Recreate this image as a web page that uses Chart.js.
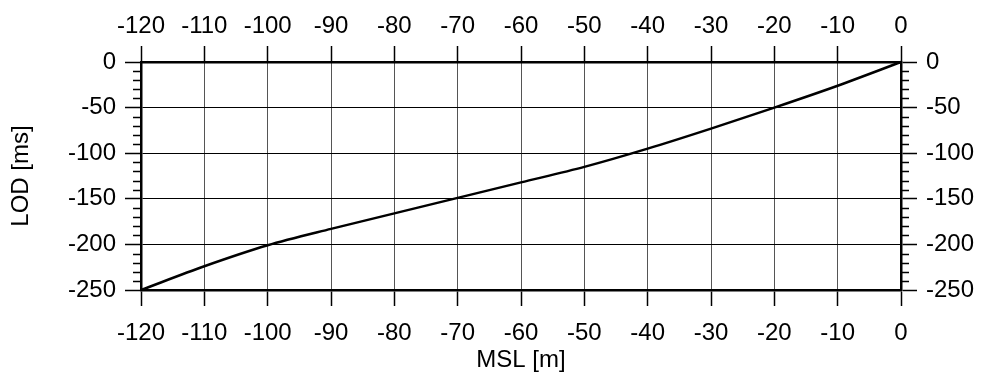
<!DOCTYPE html>
<html>
<head>
<meta charset="UTF-8">
<title>LOD vs MSL</title>
<script src="https://cdn.jsdelivr.net/npm/chart.js"></script>
<style>
  html, body { margin: 0; padding: 0; background: #fff; }
  canvas { display: block; }
</style>
</head>
<body>
<canvas id="chart" width="982" height="376"></canvas>
<script>
// sea level change (m) and change in length of day (ms)
const msl = [-120, -110, -100, -90, -80, -70, -60, -50, -40, -30, -20, -10, 0];
const lod = [-250, -224, -201, -183, -166, -149, -132, -115, -95, -73, -50, -26, 0];

const xTicks = { min: -120, max: 0, step: 10 };
const yTicks = { min: -250, max: 0, step: 50, minorStep: 10 };

const FONT = "'Liberation Sans', Arial, sans-serif";
const tickFont = { family: FONT, size: 24 };
const titleFont = { family: FONT, size: 24 };

// small outward minor ticks on both y axes
const minorTicks = {
  id: 'minorTicks',
  afterDraw(chart) {
    const ctx = chart.ctx;
    const yl = chart.scales.y, yr = chart.scales.y2;
    ctx.save();
    ctx.strokeStyle = '#000';
    ctx.lineWidth = 1.5;
    ctx.beginPath();
    for (let v = yTicks.min; v <= yTicks.max; v += yTicks.minorStep) {
      if (v % yTicks.step === 0) continue;
      const py = Math.round(yl.getPixelForValue(v)) + 0.5;
      ctx.moveTo(yl.right - 8, py);
      ctx.lineTo(yl.right, py);
      ctx.moveTo(yr.left, py);
      ctx.lineTo(yr.left + 8, py);
    }
    ctx.stroke();
    ctx.restore();
  }
};

function xAxis(pos, size, pad) {
  return {
    type: 'linear',
    position: pos,
    min: xTicks.min,
    max: xTicks.max,
    ticks: { stepSize: xTicks.step, font: tickFont, color: '#000', autoSkip: false, maxRotation: 0, padding: pad },
    grid: { drawOnChartArea: pos === 'bottom', color: '#555', lineWidth: 1, tickLength: 16, tickColor: '#000', tickWidth: 1.5 },
    border: { color: '#000', width: 2.5 },
    afterFit(s) { s.height = size; }
  };
}

function yAxis(pos, size) {
  return {
    type: 'linear',
    position: pos,
    min: yTicks.min,
    max: yTicks.max,
    ticks: { stepSize: yTicks.step, font: tickFont, color: '#000', padding: 9 },
    grid: { drawOnChartArea: pos === 'left', color: '#000', lineWidth: 1, tickLength: 16, tickColor: '#000', tickWidth: 1.5 },
    border: { color: '#000', width: 2.5 },
    afterFit(s) { s.width = size; }
  };
}

const scales = {
  x: xAxis('bottom', 86, 13),
  x2: xAxis('top', 62, 5),
  y: yAxis('left', 141),
  y2: yAxis('right', 81)
};
scales.x.title = { display: true, text: 'MSL [m]', font: titleFont, color: '#000', padding: { top: 0, bottom: 1 } };
scales.y.title = { display: true, text: 'LOD [ms]', font: titleFont, color: '#000', padding: { top: 7, bottom: 0 } };

new Chart(document.getElementById('chart'), {
  type: 'line',
  data: {
    datasets: [{
      data: msl.map((m, i) => ({ x: m, y: lod[i] })),
      borderColor: '#000',
      borderWidth: 2.5,
      pointRadius: 0,
      tension: 0.3,
      clip: false
    }]
  },
  options: {
    responsive: false,
    animation: false,
    layout: { padding: 0 },
    plugins: { legend: { display: false }, tooltip: { enabled: false } },
    scales: scales
  },
  plugins: [minorTicks]
});
</script>
</body>
</html>
